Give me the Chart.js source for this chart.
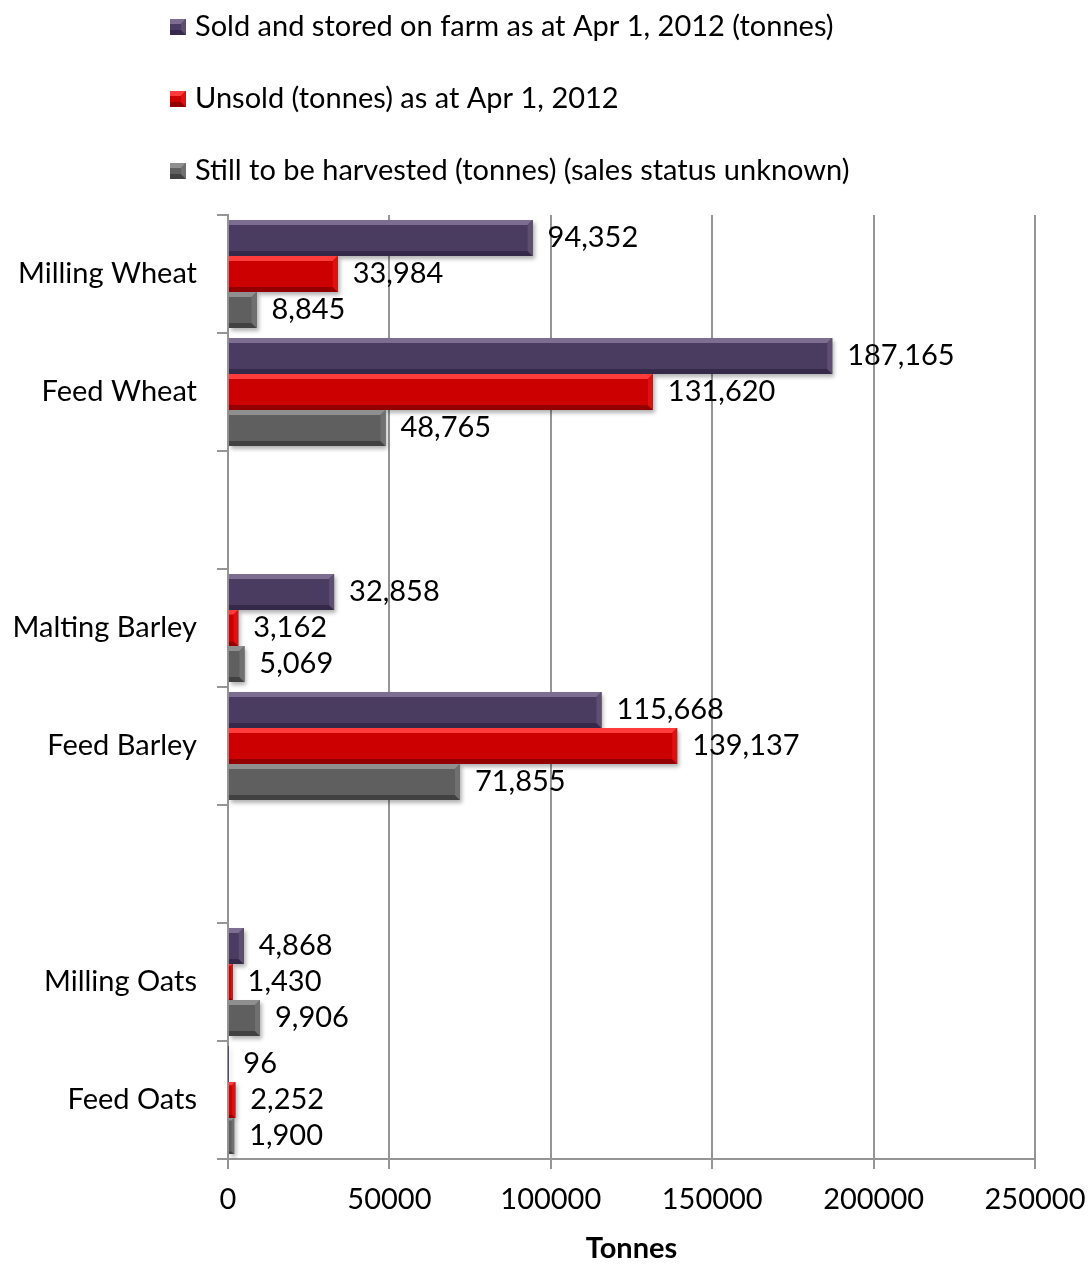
<!DOCTYPE html>
<html>
<head>
<meta charset="utf-8">
<script src="https://cdn.jsdelivr.net/npm/chart.js@4.4.1/dist/chart.umd.min.js"></script>
<style>
  body { margin: 0; background: #fff; }
  #wrap { width: 1091px; height: 1266px; }
</style>
</head>
<body>
<div id="wrap"><canvas id="grainChart"></canvas></div>
<script>
const categories = ["Milling Wheat", "Feed Wheat", "", "Malting Barley", "Feed Barley", "", "Milling Oats", "Feed Oats"];
const soldStored = [94352, 187165, null, 32858, 115668, null, 4868, 96];
const unsold = [33984, 131620, null, 3162, 139137, null, 1430, 2252];
const toHarvest = [8845, 48765, null, 5069, 71855, null, 9906, 1900];
const seriesNames = [
  "Sold and stored on farm as at Apr 1, 2012 (tonnes)",
  "Unsold (tonnes) as at Apr 1, 2012",
  "Still to be harvested (tonnes) (sales status unknown)"
];
const xTicks = [0, 50000, 100000, 150000, 200000, 250000];

const FONT = "Lato, 'Liberation Sans', sans-serif";
const FSIZE = 29;

// base / light (top) / side / dark (bottom) shades for the bevel look
const shades = [
  { base: "#4a3b60", light: "#7c6d91", side: "#5d4e72", dark: "#35294a" },
  { base: "#cc0000", light: "#ff3b3b", side: "#e01010", dark: "#930000" },
  { base: "#5f5f5f", light: "#8f8f8f", side: "#707070", dark: "#414141" }
];

function bevelBox(ctx, left, top, right, bottom, s) {
  const w = right - left, h = bottom - top;
  if (w <= 0 || h <= 0) return;
  const b = Math.min(5, w / 2, h / 2);
  ctx.fillStyle = s.base;
  ctx.fillRect(left, top, w, h);
  ctx.fillStyle = s.light;
  ctx.beginPath();
  ctx.moveTo(left, top); ctx.lineTo(right, top); ctx.lineTo(right - b, top + b); ctx.lineTo(left, top + b);
  ctx.closePath(); ctx.fill();
  ctx.fillStyle = s.dark;
  ctx.beginPath();
  ctx.moveTo(left, bottom); ctx.lineTo(right, bottom); ctx.lineTo(right - b, bottom - b); ctx.lineTo(left, bottom - b);
  ctx.closePath(); ctx.fill();
  ctx.fillStyle = s.side;
  ctx.beginPath();
  ctx.moveTo(right, top); ctx.lineTo(right, bottom); ctx.lineTo(right - b, bottom - b); ctx.lineTo(right - b, top + b);
  ctx.closePath(); ctx.fill();
}

// soft shadow under bars, then bevel faces drawn over the library's bars
const bevelPlugin = {
  id: "bevel",
  beforeDatasetsDraw(chart) {
    const ctx = chart.ctx;
    ctx.save();
    ctx.shadowColor = "rgba(0,0,0,0.3)";
    ctx.shadowBlur = 4;
    ctx.shadowOffsetX = 2;
    ctx.shadowOffsetY = 3;
  },
  afterDatasetsDraw(chart) {
    const ctx = chart.ctx;
    ctx.restore();
    chart.data.datasets.forEach((ds, i) => {
      const meta = chart.getDatasetMeta(i);
      meta.data.forEach((el, j) => {
        if (ds.data[j] == null) return;
        const half = el.height / 2;
        bevelBox(ctx, Math.min(el.base, el.x), el.y - half, Math.max(el.base, el.x), el.y + half, shades[i]);
      });
    });
    // value labels
    ctx.save();
    ctx.font = FSIZE + "px " + FONT;
    ctx.fillStyle = "#000";
    ctx.textAlign = "left";
    ctx.textBaseline = "middle";
    chart.data.datasets.forEach((ds, i) => {
      const meta = chart.getDatasetMeta(i);
      meta.data.forEach((el, j) => {
        const v = ds.data[j];
        if (v == null) return;
        ctx.fillText(v.toLocaleString("en-US"), el.x + 15, el.y);
      });
    });
    ctx.restore();
  }
};

const legendPlugin = {
  id: "stackLegend",
  afterDraw(chart) {
    const ctx = chart.ctx;
    ctx.save();
    ctx.font = FSIZE + "px " + FONT;
    ctx.textBaseline = "middle";
    ctx.textAlign = "left";
    chart.data.datasets.forEach((ds, i) => {
      const cy = 27 + i * 72;
      bevelBox(ctx, 170, cy - 8, 186, cy + 8, shades[i]);
      ctx.fillStyle = "#000";
      ctx.fillText(ds.label, 195, cy);
    });
    ctx.restore();
  }
};

const gridColor = "#959595";

new Chart(document.getElementById("grainChart").getContext("2d"), {
  type: "bar",
  data: {
    labels: categories,
    datasets: [
      { label: seriesNames[0], data: soldStored, backgroundColor: shades[0].base },
      { label: seriesNames[1], data: unsold, backgroundColor: shades[1].base },
      { label: seriesNames[2], data: toHarvest, backgroundColor: shades[2].base }
    ]
  },
  options: {
    indexAxis: "y",
    responsive: true,
    maintainAspectRatio: false,
    animation: false,
    categoryPercentage: 0.915,
    barPercentage: 1.0,
    layout: { padding: { top: 215, right: 56, left: 0, bottom: 0 } },
    plugins: {
      legend: { display: false },
      tooltip: { enabled: false }
    },
    scales: {
      x: {
        min: 0,
        max: 250000,
        afterBuildTicks(scale) { scale.ticks = xTicks.map(v => ({ value: v })); },
        afterFit(scale) {
          scale.height = 107;
          scale.paddingLeft = 0;
          scale.paddingRight = 0;
        },
        ticks: {
          callback: v => String(v),
          color: "#000",
          font: { family: FONT, size: FSIZE },
          padding: 13,
          maxRotation: 0
        },
        grid: { color: gridColor, lineWidth: 2, tickLength: 10 },
        border: { color: gridColor, width: 2 },
        title: {
          display: true,
          text: "Tonnes",
          color: "#000",
          font: { family: FONT, size: 29, weight: "bold" },
          padding: { top: 0, bottom: 0 }
        }
      },
      y: {
        afterFit(scale) { scale.width = 228; },
        ticks: {
          color: "#000",
          font: { family: FONT, size: FSIZE },
          padding: 20
        },
        grid: { drawOnChartArea: false, color: gridColor, lineWidth: 2, tickLength: 11 },
        border: { color: gridColor, width: 2 }
      }
    }
  },
  plugins: [bevelPlugin, legendPlugin]
});
</script>
</body>
</html>
